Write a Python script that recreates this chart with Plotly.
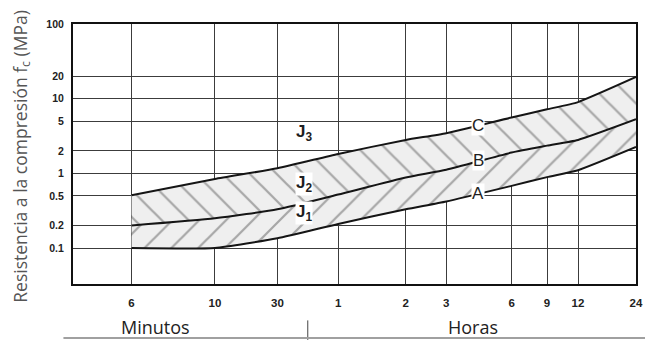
import math
import plotly.graph_objects as go

# time axis of the original chart (non-uniform scale): label, unit, position on scale
time_labels = ["6", "10", "30", "1", "2", "3", "6", "9", "12", "24"]
time_units = ["min", "min", "min", "h", "h", "h", "h", "h", "h", "h"]
time_scale = [10.4, 25.2, 36.3, 47.1, 59.1, 66.3, 77.9, 84.2, 89.7, 100.0]

# compressive strength curves (MPa) read at each time mark
curve_a = [0.10, 0.10, 0.135, 0.21, 0.33, 0.42, 0.68, 0.89, 1.1, 2.25]
curve_b = [0.20, 0.25, 0.33, 0.52, 0.88, 1.12, 1.9, 2.35, 2.8, 5.3]
curve_c = [0.51, 0.84, 1.17, 1.82, 2.8, 3.45, 5.6, 7.2, 9.0, 19.5]

strength_ticks = [0.1, 0.2, 0.5, 1, 2, 5, 10, 20, 100]

# label positions (scale x, MPa)
curve_labels = [("C", 72, 4.35), ("B", 72, 1.47), ("A", 72, 0.53)]
zone_labels = [("J<sub>3</sub>", 41, 3.47), ("J<sub>2</sub>", 41, 0.73), ("J<sub>1</sub>", 41, 0.29)]

grid_col = "#3c3c3c"
line_col = "#151515"

fig = go.Figure()

fig.add_trace(go.Scatter(x=time_scale, y=curve_a, mode="lines",
                         line=dict(color=line_col, width=2, shape="spline", smoothing=0.5),
                         hoverinfo="skip"))
fig.add_trace(go.Scatter(x=time_scale, y=curve_b, mode="lines", fill="tonexty",
                         fillpattern=dict(shape="/", fgcolor="#606060", bgcolor="#efefef",
                                          size=19, solidity=0.12),
                         line=dict(color=line_col, width=2, shape="spline", smoothing=0.5),
                         hoverinfo="skip"))
fig.add_trace(go.Scatter(x=time_scale, y=curve_c, mode="lines", fill="tonexty",
                         fillpattern=dict(shape="\\", fgcolor="#606060", bgcolor="#efefef",
                                          size=19, solidity=0.12),
                         line=dict(color=line_col, width=2, shape="spline", smoothing=0.5),
                         hoverinfo="skip"))

# curve letters sitting on the lines
for txt, xv, yv in curve_labels:
    fig.add_annotation(x=xv, y=math.log10(yv), text=txt, showarrow=False,
                       xanchor="center", yanchor="middle",
                       font=dict(family="Liberation Sans", size=17, color="#1e1e1e"),
                       bgcolor="white", borderpad=0)
# zone labels
for txt, xv, yv in zone_labels:
    fig.add_annotation(x=xv, y=math.log10(yv), text=txt, showarrow=False,
                       xanchor="center", yanchor="middle",
                       font=dict(family="Liberation Sans", size=17, color="#1e1e1e", weight="bold"),
                       bgcolor=None if "3" in txt else "white", borderpad=0)

# axis title and unit captions
fig.add_annotation(xref="paper", yref="paper", x=-0.093, y=0.492, textangle=-90,
                   xanchor="center", yanchor="middle",
                   text="Resistencia a la compresión f<sub>c</sub> (MPa)", showarrow=False,
                   font=dict(family="Open Sans", size=17.5, color="#555555"))
fig.add_annotation(xref="paper", yref="paper", x=0.147, y=-0.165, xanchor="center", yanchor="middle",
                   text="Minutos", showarrow=False,
                   font=dict(family="Open Sans", size=18, color="#222222"))
fig.add_annotation(xref="paper", yref="paper", x=0.711, y=-0.165, xanchor="center", yanchor="middle",
                   text="Horas", showarrow=False,
                   font=dict(family="Open Sans", size=18, color="#222222"))

# separator between minutes and hours
sep_x = (time_scale[2] + time_scale[3]) / 2
fig.add_shape(type="line", xref="x", yref="paper", x0=sep_x, x1=sep_x, y0=-0.14, y1=-0.215,
              line=dict(color="#444444", width=1))
fig.add_shape(type="line", xref="paper", yref="paper", x0=-0.017, x1=1.02, y0=-0.208, y1=-0.208,
              line=dict(color="#a0a0a0", width=2))

fig.update_xaxes(range=[0, 100], tickvals=time_scale, ticktext=time_labels,
                 showgrid=True, gridcolor=grid_col, gridwidth=1.3,
                 showline=True, linecolor="#111111", linewidth=2, mirror=True,
                 ticks="", ticklabelstandoff=7, zeroline=False, ticklabeloverflow="allow",
                 tickfont=dict(family="Liberation Sans", size=11.5, color="#222222", weight="bold"))
fig.update_yaxes(type="log", range=[-1.482, 2], tickvals=strength_ticks,
                 ticktext=[str(v) for v in strength_ticks],
                 showgrid=True, gridcolor=grid_col, gridwidth=1.3,
                 showline=True, linecolor="#111111", linewidth=2, mirror=True,
                 ticks="", ticklabelstandoff=5, zeroline=False,
                 tickfont=dict(family="Liberation Sans", size=10.5, color="#222222", weight="bold"))

# page body keeps an 8px margin, so the figure only gets 637x332 of the window
fig.update_layout(width=637, height=332, showlegend=False,
                  margin=dict(l=65, r=2, t=16, b=56),
                  paper_bgcolor="white", plot_bgcolor="white")

fig.write_html("out.html")
